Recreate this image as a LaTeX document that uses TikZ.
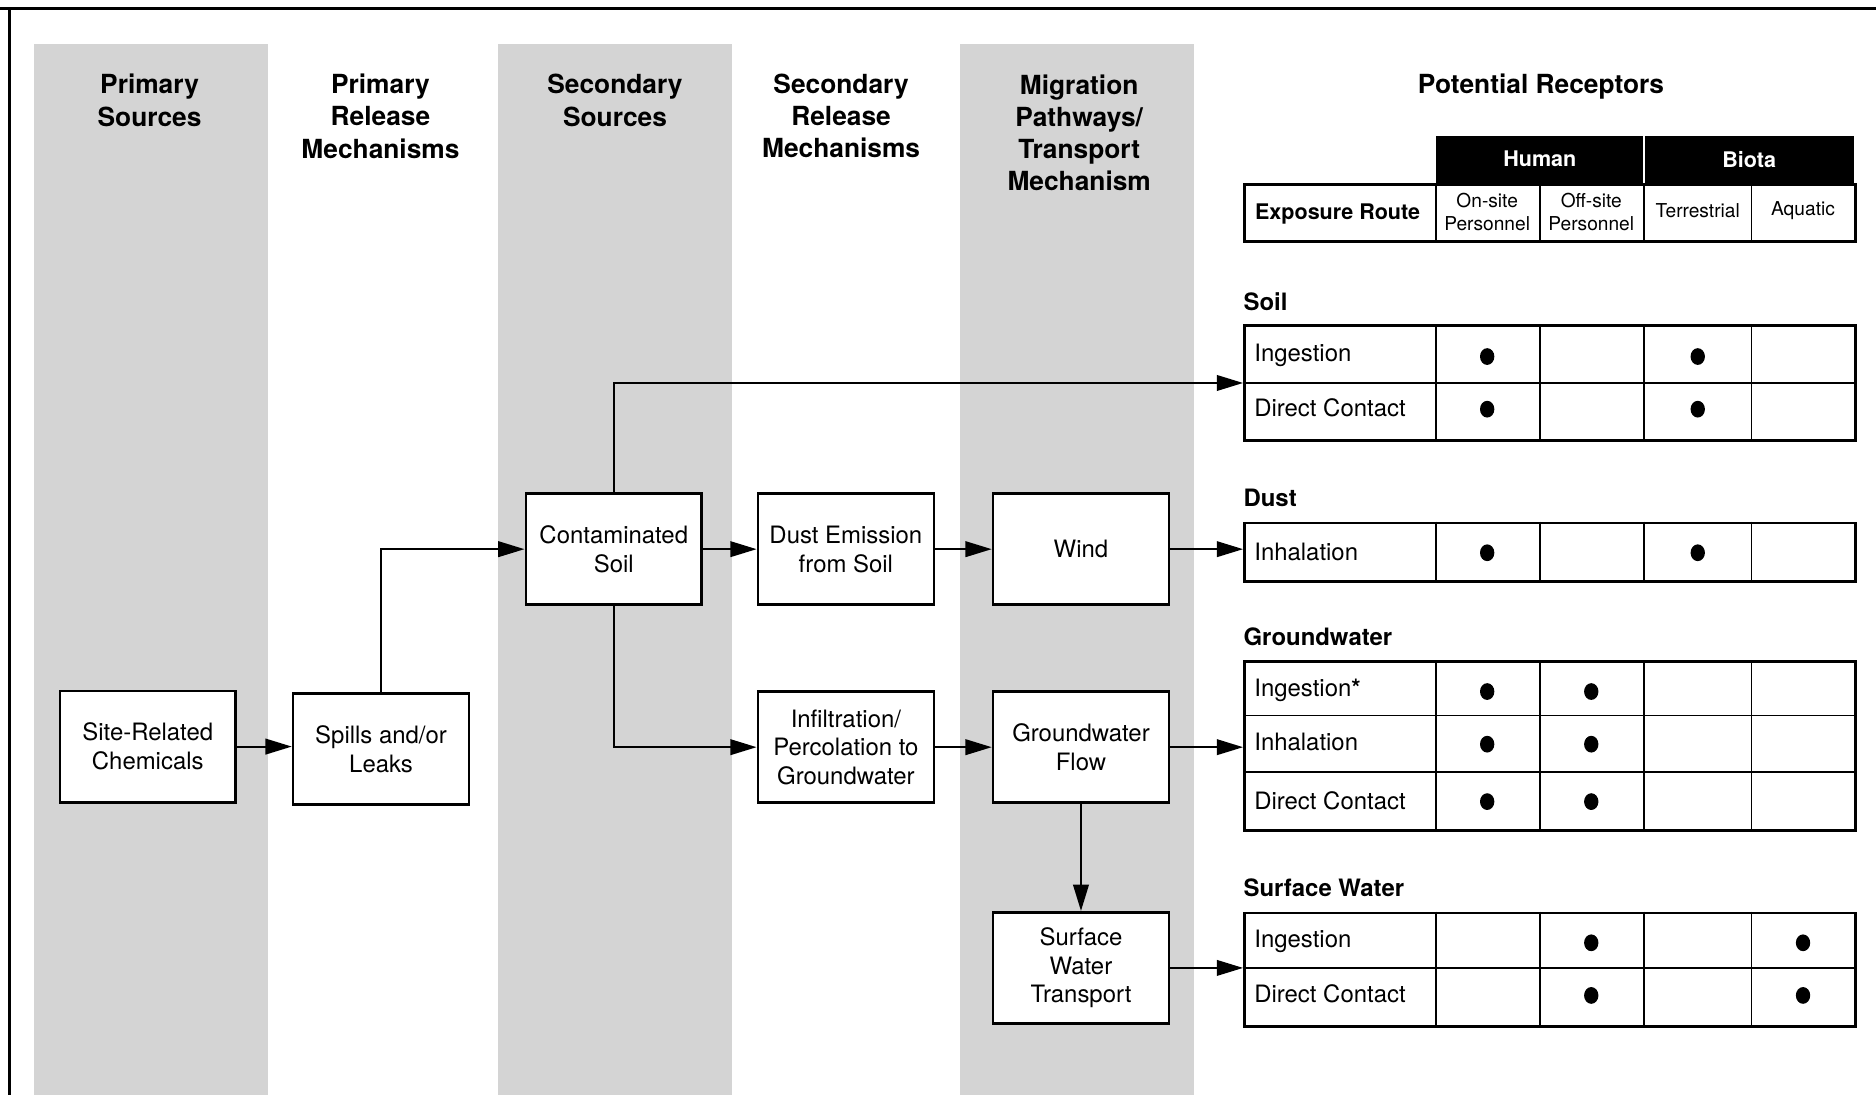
\documentclass[tikz,border=0pt]{standalone}
\usepackage{fontspec}
\setmainfont{TeX Gyre Heros}
\usetikzlibrary{arrows.meta}
\begin{document}
\begin{tikzpicture}[x=0.5pt,y=-0.5pt,
  flowbox/.style={draw, line width=1.1pt, fill=white, minimum width=73.5pt, minimum height=46.5pt,
    align=center, inner sep=0pt, font=\fontsize{10}{12}\selectfont},
  head/.style={align=center, inner sep=0pt, font=\fontsize{11}{13.5}\selectfont\bfseries},
  link/.style={line width=0.9pt, -{Triangle[length=11pt,width=6.5pt]}},
  tab/.style={draw, line width=1.1pt, minimum width=255.5pt, inner sep=0pt},
  rule/.style={line width=0.7pt},
  route/.style={anchor=west, inner sep=0pt, font=\fontsize{10}{12}\selectfont},
  sect/.style={anchor=west, inner sep=0pt, font=\fontsize{10}{12}\selectfont\bfseries},
  colhead/.style={align=center, inner sep=0pt, font=\fontsize{8}{9.5}\selectfont},
  band/.style={fill=black!17}
]
\useasboundingbox (0,0) rectangle (1568,915);

% frame
\draw[line width=1pt] (0,7) -- (1568,7);
\draw[line width=1pt] (8,7) -- (8,915);

% shaded columns
\fill[band] (28,37) rectangle (224,915);
\fill[band] (416,37) rectangle (612,915);
\fill[band] (802,37) rectangle (998,915);

% column headings
\node[head] (h1) at (125,84) {Primary\\Sources};
\node[head] (h2) at (318,97) {Primary\\Release\\Mechanisms};
\node[head] (h3) at (514,84) {Secondary\\Sources};
\node[head] (h4) at (703,97) {Secondary\\Release\\Mechanisms};
\node[head] (h5) at (902,111) {Migration\\Pathways/\\Transport\\Mechanism};
\node[head] (h6) at (1288,72) {Potential Receptors};

% flow boxes
\node[flowbox] (site)  at (123.5,624) {Site-Related\\Chemicals};
\node[flowbox] (spill) at (318.5,626) {Spills and/or\\Leaks};
\node[flowbox] (cont)  at (513,459)   {Contaminated\\Soil};
\node[flowbox] (dust)  at (707,459)   {Dust Emission\\from Soil};
\node[flowbox] (wind)  at (903.5,459) {Wind};
\node[flowbox] (infil) at (707,624.5) {Infiltration/\\Percolation to\\Groundwater};
\node[flowbox] (gwf)   at (903.5,624.5) {Groundwater\\Flow};
\node[flowbox] (swt)   at (903.5,809) {Surface\\Water\\Transport};

% receptor header table
\fill (1200,114) rectangle (1550,153);
\draw[white, line width=0.8pt] (1374,114) -- (1374,153);
\node[inner sep=0pt, text=white, font=\fontsize{9}{11}\selectfont\bfseries] (hum) at (1287,133) {Human};
\node[inner sep=0pt, text=white, font=\fontsize{9}{11}\selectfont\bfseries] (bio) at (1462,133) {Biota};
\node[tab, minimum height=24pt, anchor=north west] (hdr) at (1039,153) {};
\foreach \x in {1200,1287,1374,1464} \draw[rule] (\x,153) -- (\x,201);
\node[inner sep=0pt, font=\fontsize{9}{11}\selectfont\bfseries] (er) at (1118,179) {Exposure Route};
\node[colhead] (c1) at (1243,177) {On-site\\Personnel};
\node[colhead] (c2) at (1330,177) {Off-site\\Personnel};
\node[colhead] (c3) at (1419,176) {Terrestrial};
\node[colhead] (c4) at (1507,176) {Aquatic};

% receptor tables
\node[tab, minimum height=48pt, anchor=north west] (soiltab) at (1039,271) {};
\node[tab, minimum height=24.5pt, anchor=north west] (dusttab) at (1039,436) {};
\node[tab, minimum height=70.5pt, anchor=north west] (gwtab) at (1039,552) {};
\node[tab, minimum height=47.5pt, anchor=north west] (swtab) at (1039,762) {};

\foreach \t/\b in {271/367,436/485,552/693,762/857}
  \foreach \x in {1200,1287,1374,1464} \draw[rule] (\x,\t) -- (\x,\b);
\foreach \y in {320,598,645,809} \draw[rule] (1039,\y) -- (1550,\y);

\node[sect] (ls) at (1039,252) {Soil};
\node[sect] (ld) at (1039,416) {Dust};
\node[sect] (lg) at (1039,532) {Groundwater};
\node[sect] (lw) at (1039,742) {Surface Water};

\node[route] (r1) at (1048,297) {Ingestion};
\node[route] (r2) at (1048,341) {Direct Contact};
\node[route] (r3) at (1048,461) {Inhalation};
\node[route] (r4) at (1048,577) {Ingestion\textbf{*}};
\node[route] (r5) at (1048,620) {Inhalation};
\node[route] (r6) at (1048,669) {Direct Contact};
\node[route] (r7) at (1048,787) {Ingestion};
\node[route] (r8) at (1048,831) {Direct Contact};

% exposure marks
\foreach \x/\y in {1243/298,1419/298,1243/342,1419/342,1243/462,1419/462,
                   1243/578,1330/578,1243/622,1330/622,1243/670,1330/670,
                   1330/788,1507/788,1330/832,1507/832}
  \fill (\x,\y) ellipse [x radius=3pt, y radius=3.5pt];

% connectors
\draw[link] (site.east) -- (site.east -| spill.west);
\draw[link] (spill.north) |- (cont.west);
\draw[link] (cont.north) |- (soiltab.west);
\draw[link] (cont.east) -- (dust.west);
\draw[link] (dust.east) -- (wind.west);
\draw[link] (wind.east) -- (wind.east -| dusttab.west);
\draw[link] (cont.south) |- (infil.west);
\draw[link] (infil.east) -- (gwf.west);
\draw[link] (gwf.east) -- (gwf.east -| gwtab.west);
\draw[link] (gwf.south) -- (swt.north);
\draw[link] (swt.east) -- (swt.east -| swtab.west);
\end{tikzpicture}
\end{document}
